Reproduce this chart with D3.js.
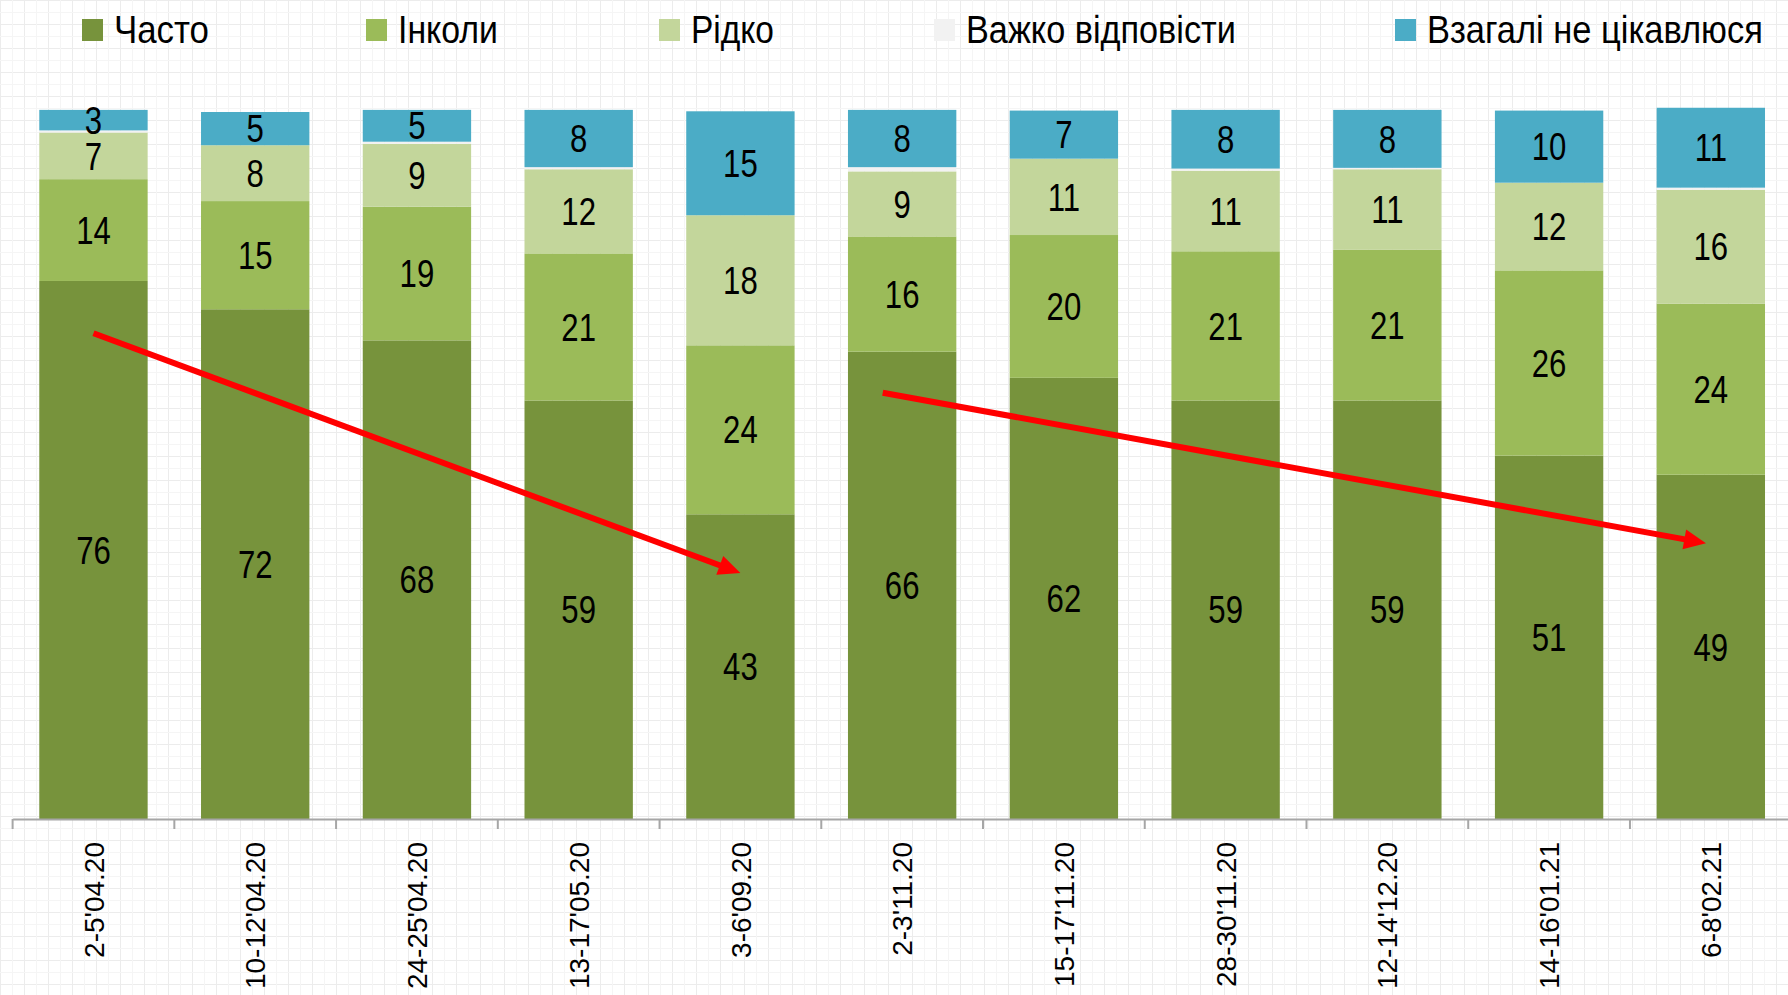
<!DOCTYPE html>
<html>
<head>
<meta charset="utf-8">
<script src="https://cdn.jsdelivr.net/npm/d3@7"></script>
<style>
  body { margin: 0; background: #fff; }
  svg { display: block; }
</style>
</head>
<body>
<svg id="chart"></svg>
<script>
// survey waves
const dates = ["2-5'04.20", "10-12'04.20", "24-25'04.20", "13-17'05.20", "3-6'09.20",
  "2-3'11.20", "15-17'11.20", "28-30'11.20", "12-14'12.20", "14-16'01.21", "6-8'02.21"];

// % by answer (labels are rounded)
const often         = [76.1, 72.1, 67.7, 59.2, 43.1, 66.1, 62.4, 59.2, 59.2, 51.4, 48.7];
const sometimes     = [14.4, 15.3, 18.9, 20.8, 23.9, 16.3, 20.2, 21.1, 21.3, 26.2, 24.2];
const rarely        = [6.6, 7.9, 8.9, 11.9, 18.4, 9.2, 10.8, 11.4, 11.4, 12.4, 16.1];
const hardToSay     = [0.3, 0, 0.3, 0.3, 0, 0.6, 0, 0.3, 0.2, 0, 0.3];
const notInterested = [2.9, 4.7, 4.5, 8.1, 14.7, 8.1, 6.8, 8.3, 8.2, 10.2, 11.3];

const seriesNames  = ["Часто", "Інколи", "Рідко", "Важко відповісти", "Взагалі не цікавлюся"];
const seriesColors = ["#77933c", "#9bbb59", "#c3d69b", "#f2f2f2", "#4bacc6"];

// trend arrows: [from position (bar index), from value, to position, to value]
const trendArrows = [
  [0, 68.7, 4, 34.8],
  [4.88, 60.3, 9.97, 39.0]
];

const W = 1788, H = 995;
const svg = d3.select("#chart").attr("width", W).attr("height", H);

// faint paper grid in the background
const defs = svg.append("defs");
const pat = defs.append("pattern").attr("id", "paper").attr("width", 24).attr("height", 24)
  .attr("patternUnits", "userSpaceOnUse");
pat.append("rect").attr("width", 24).attr("height", 24).attr("fill", "#fff");
pat.append("path").attr("d", "M0,0.5H24M0.5,0V24").attr("stroke", "#ececec").attr("stroke-width", 1);
pat.append("path").attr("d", "M0,12.5H24M12.5,0V24").attr("stroke", "#f5f5f5").attr("stroke-width", 1);
svg.append("rect").attr("width", W).attr("height", H).attr("fill", "url(#paper)");

const x = d3.scaleBand().domain(dates).range([12.6, 1791.7]).paddingInner(0.33).paddingOuter(0.165);
const y = d3.scaleLinear().domain([0, 100]).range([819, 112]);

const table = dates.map((d, i) => ({
  date: d, s0: often[i], s1: sometimes[i], s2: rarely[i], s3: hardToSay[i], s4: notInterested[i]
}));
const keys = ["s0", "s1", "s2", "s3", "s4"];
const stacked = d3.stack().keys(keys)(table);

const narrowFont = "'Liberation Sans Narrow', 'Arial Narrow', 'Liberation Sans', Arial, sans-serif";

// squeeze a text horizontally to a wanted width (no narrow font installed)
function squeeze(sel, widthFn, anchorX, anchorY) {
  sel.each(function (d, i) {
    const natural = this.getComputedTextLength();
    const sx = Math.min(1, widthFn(d, i) / natural);
    const ax = anchorX(d, i), ay = anchorY(d, i);
    d3.select(this).attr("x", 0).attr("y", 0)
      .attr("transform", `translate(${ax},${ay}) scale(${sx},1)`);
  });
}

const layers = svg.append("g").selectAll("g").data(stacked).join("g")
  .attr("fill", (d, i) => seriesColors[i]);

layers.selectAll("rect").data(d => d).join("rect")
  .attr("x", d => x(d.data.date))
  .attr("width", x.bandwidth())
  .attr("y", d => y(d[1]))
  .attr("height", d => y(d[0]) - y(d[1]));

// value labels (not for "Важко відповісти")
const valueLabels = layers.filter((d, i) => i !== 3).selectAll("text").data(d => d).join("text")
  .attr("dy", "0.36em")
  .attr("text-anchor", "middle")
  .attr("fill", "#000")
  .style("font-family", narrowFont)
  .style("font-size", "38px")
  .text(d => Math.round(d[1] - d[0]));
valueLabels.each(function (d) {
  const cx = x(d.data.date) + x.bandwidth() / 2, cy = (y(d[0]) + y(d[1])) / 2;
  d3.select(this).attr("transform", `translate(${cx},${cy}) scale(0.82,1)`);
});

// x axis
const axisG = svg.append("g").attr("transform", `translate(0,${y(0)})`)
  .call(d3.axisBottom(x).tickSize(0).tickSizeOuter(0));
axisG.select(".domain").attr("stroke", "#a6a6a6").attr("stroke-width", 2);
axisG.selectAll(".tick text")
  .attr("transform", "rotate(-90)")
  .attr("x", -23).attr("y", 0).attr("dy", "0.36em")
  .style("text-anchor", "end")
  .style("font-family", "'Liberation Sans', Arial, sans-serif")
  .style("font-size", "28px")
  .attr("fill", "#000");
axisG.selectAll(".boundary").data(d3.range(dates.length + 1)).join("line")
  .attr("class", "boundary")
  .attr("x1", i => x.range()[0] + i * x.step()).attr("x2", i => x.range()[0] + i * x.step())
  .attr("y1", 0).attr("y2", 10)
  .attr("stroke", "#a6a6a6").attr("stroke-width", 2);

// trend arrows
const xAt = p => x(dates[0]) + x.bandwidth() / 2 + p * x.step();
const headLen = 22, headHalf = 10;
const arrowG = svg.append("g");
trendArrows.forEach(([p0, v0, p1, v1]) => {
  const x0 = xAt(p0), y0 = y(v0), x1 = xAt(p1), y1 = y(v1);
  const ang = Math.atan2(y1 - y0, x1 - x0);
  const bx = x1 - headLen * Math.cos(ang), by = y1 - headLen * Math.sin(ang);
  arrowG.append("line")
    .attr("x1", x0).attr("y1", y0).attr("x2", bx + 2 * Math.cos(ang)).attr("y2", by + 2 * Math.sin(ang))
    .attr("stroke", "#ff0000").attr("stroke-width", 6);
  const nx = -Math.sin(ang), ny = Math.cos(ang);
  arrowG.append("path")
    .attr("d", d3.line()([[x1, y1], [bx + nx * headHalf, by + ny * headHalf], [bx - nx * headHalf, by - ny * headHalf]]) + "Z")
    .attr("fill", "#ff0000");
});

// legend
const legendX = [82, 366, 659, 934, 1395];
const legendTextW = [95, 100, 83, 270, 336];
const legend = svg.append("g").selectAll("g").data(seriesNames).join("g")
  .attr("transform", (d, i) => `translate(${legendX[i]},0)`);
legend.append("rect").attr("x", 0).attr("y", 19).attr("width", 21).attr("height", 22)
  .attr("fill", (d, i) => seriesColors[i]);
legend.append("text")
  .style("font-family", narrowFont).style("font-size", "39px").attr("fill", "#000")
  .text(d => d)
  .call(squeeze, (d, i) => legendTextW[i], () => 32, () => 43);
</script>
</body>
</html>
